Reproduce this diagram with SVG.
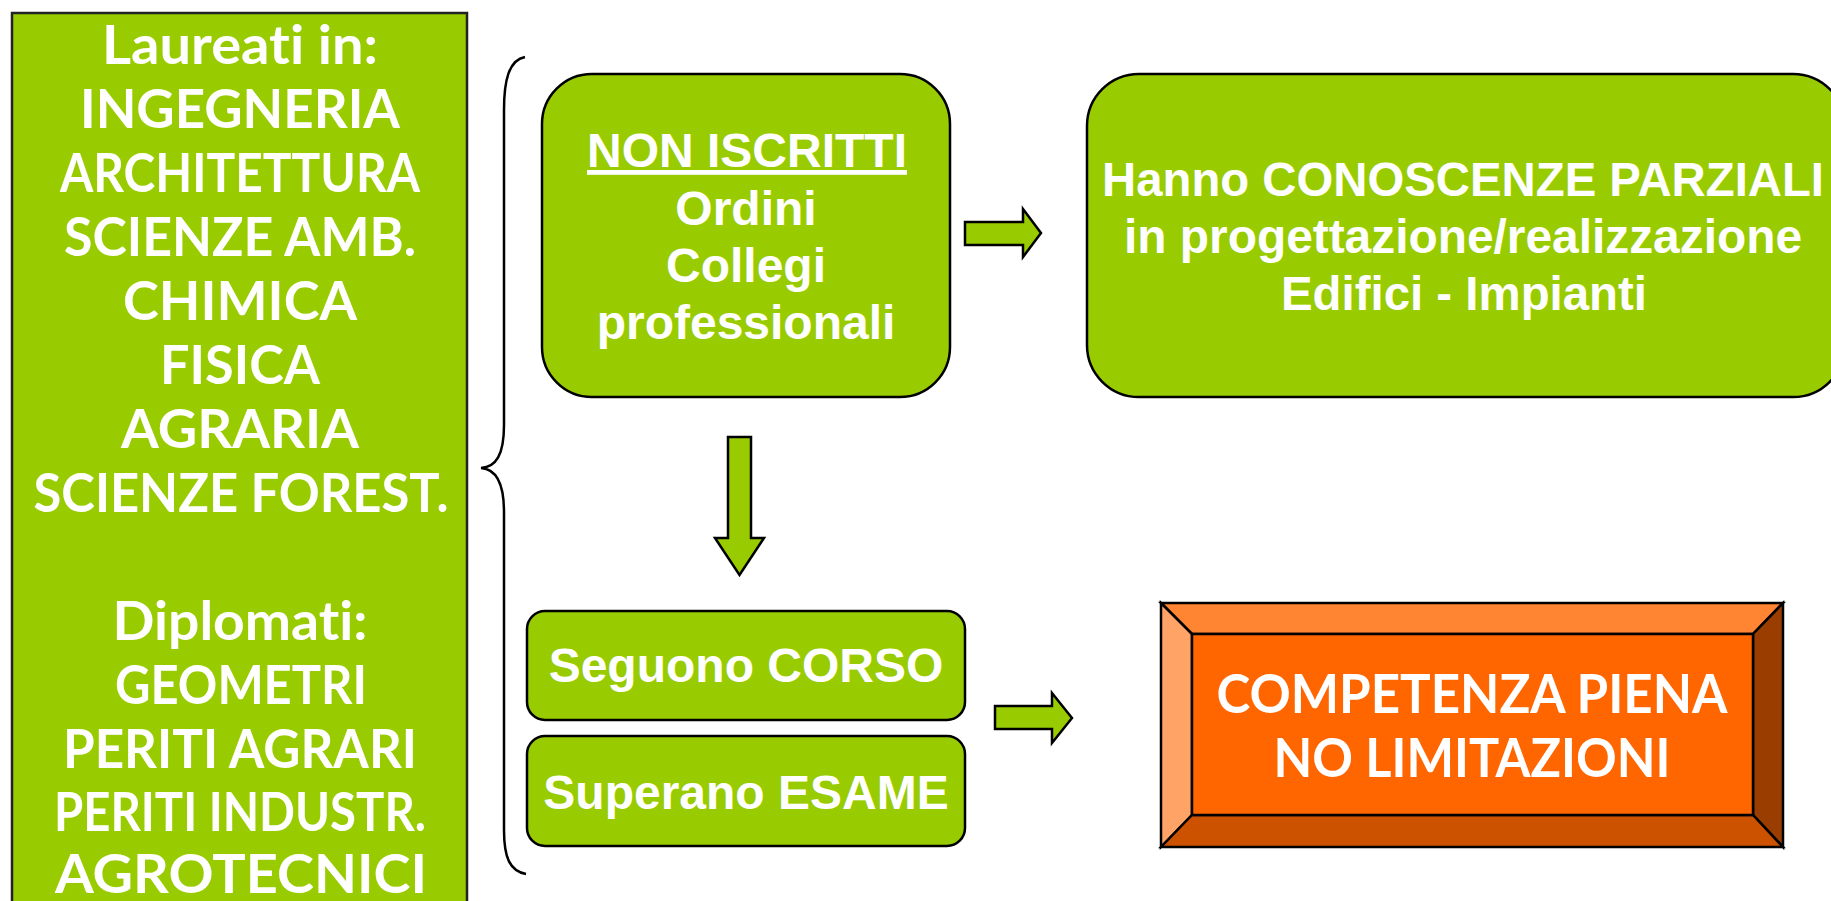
<svg xmlns="http://www.w3.org/2000/svg" width="1831" height="901" viewBox="0 0 1831 901">
<style>
.g{fill:#99CC00;stroke:#000;stroke-width:2.5}
.gc{font-family:Lato,"Open Sans","Liberation Sans",sans-serif;font-weight:bold;fill:#fff;text-anchor:middle;font-size:53px;font-variant-ligatures:none}
.ar{font-family:"Liberation Sans",Arial,sans-serif;font-weight:bold;fill:#fff;text-anchor:middle;font-size:48px}
.bv{stroke:#000;stroke-width:2.5;stroke-linejoin:miter}
</style>
<rect width="1831" height="901" fill="#fff"/>
<g id="laureati">
<rect x="12" y="13" width="455" height="910" fill="#99CC00" stroke="#222" stroke-width="2.5"/>
<text class="gc" x="240" y="64" textLength="276" lengthAdjust="spacingAndGlyphs">Laureati in:</text>
<text class="gc" x="240" y="128" textLength="320" lengthAdjust="spacingAndGlyphs">INGEGNERIA</text>
<text class="gc" x="240" y="192" textLength="360" lengthAdjust="spacingAndGlyphs">ARCHITETTURA</text>
<text class="gc" x="240" y="256" textLength="352" lengthAdjust="spacingAndGlyphs">SCIENZE AMB.</text>
<text class="gc" x="240" y="320" textLength="234" lengthAdjust="spacingAndGlyphs">CHIMICA</text>
<text class="gc" x="240" y="384" textLength="160" lengthAdjust="spacingAndGlyphs">FISICA</text>
<text class="gc" x="240" y="448" textLength="238" lengthAdjust="spacingAndGlyphs">AGRARIA</text>
<text class="gc" x="241" y="512" textLength="415" lengthAdjust="spacingAndGlyphs">SCIENZE FOREST.</text>
<text class="gc" x="240" y="640" textLength="255" lengthAdjust="spacingAndGlyphs">Diplomati:</text>
<text class="gc" x="241" y="704" textLength="252" lengthAdjust="spacingAndGlyphs">GEOMETRI</text>
<text class="gc" x="240" y="768" textLength="354" lengthAdjust="spacingAndGlyphs">PERITI AGRARI</text>
<text class="gc" x="240" y="831" textLength="372" lengthAdjust="spacingAndGlyphs">PERITI INDUSTR.</text>
<text class="gc" x="241" y="893" textLength="372" lengthAdjust="spacingAndGlyphs">AGROTECNICI</text>
</g>
<g id="connectors">
<path d="M525 57 C509 60 504 80 504 110 L504 425 C504 455 496 467 481 468 C496 469 504 482 504 512 L504 830 C504 858 510 871 526 874" fill="none" stroke="#000" stroke-width="2.5"/>
<path class="g" d="M965 222 H1023 V209 L1041 233 L1023 257 V245 H965 Z"/>
<path class="g" d="M728 437 H751 V538 H764 L739.5 575 L715 538 H728 Z"/>
<path class="g" d="M995 706 H1052 V693 L1072 718 L1052 743 V729 H995 Z"/>
</g>
<g id="non-iscritti">
<rect class="g" x="542" y="74" width="408" height="323" rx="50" ry="50"/>
<text class="ar" x="747" y="167" text-decoration="underline">NON ISCRITTI</text>
<text class="ar" x="746" y="225">Ordini</text>
<text class="ar" x="746" y="282">Collegi</text>
<text class="ar" x="746" y="339">professionali</text>
</g>
<g id="conoscenze">
<rect class="g" x="1087" y="74" width="758" height="323" rx="52" ry="52"/>
<text class="ar" x="1463" y="196" textLength="722" lengthAdjust="spacingAndGlyphs">Hanno CONOSCENZE PARZIALI</text>
<text class="ar" x="1463" y="253" textLength="678" lengthAdjust="spacingAndGlyphs">in progettazione/realizzazione</text>
<text class="ar" x="1464" y="310" textLength="366" lengthAdjust="spacingAndGlyphs">Edifici - Impianti</text>
</g>
<g id="corso">
<rect class="g" x="527" y="611" width="438" height="109" rx="18" ry="18"/>
<text class="ar" x="746" y="682">Seguono CORSO</text>
</g>
<g id="esame">
<rect class="g" x="527" y="736" width="438" height="110" rx="18" ry="18"/>
<text class="ar" x="746" y="809">Superano ESAME</text>
</g>
<g id="competenza">
<polygon class="bv" fill="#FF8533" points="1161,603 1783,603 1753,634 1192,634"/>
<polygon class="bv" fill="#FFA366" points="1161,603 1192,634 1192,815 1161,847"/>
<polygon class="bv" fill="#993D00" points="1783,603 1783,847 1753,815 1753,634"/>
<polygon class="bv" fill="#CC5200" points="1161,847 1192,815 1753,815 1783,847"/>
<rect class="bv" fill="#FF6600" x="1192" y="634" width="561" height="181"/>
<text class="gc" x="1472" y="713" textLength="511" lengthAdjust="spacingAndGlyphs">COMPETENZA PIENA</text>
<text class="gc" x="1472" y="777" textLength="397" lengthAdjust="spacingAndGlyphs">NO LIMITAZIONI</text>
</g>
</svg>
